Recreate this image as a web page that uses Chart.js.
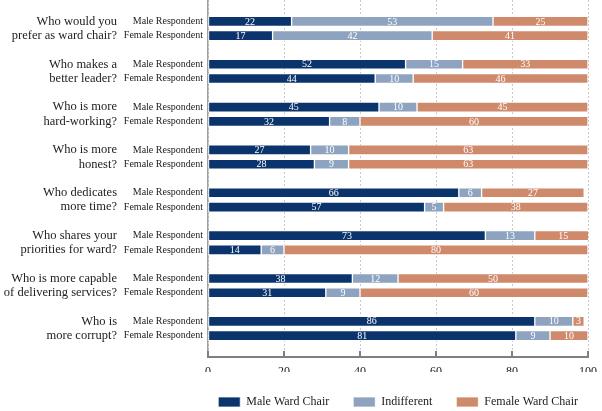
<!DOCTYPE html>
<html>
<head>
<meta charset="utf-8">
<script src="https://cdn.jsdelivr.net/npm/chart.js@4"></script>
<style>
  html, body { margin: 0; padding: 0; background: #fff; }
  #wrap { width: 602px; height: 411px; }
</style>
</head>
<body>
<div id="wrap"><canvas id="chart" width="602" height="411"></canvas></div>
<script>
// questions, split over two lines (line 1 sits on the male row, line 2 on the female row)
const questionLine1 = ['Who would you', 'Who makes a', 'Who is more', 'Who is more', 'Who dedicates', 'Who shares your', 'Who is more capable', 'Who is'];
const questionLine2 = ['prefer as ward chair?', 'better leader?', 'hard-working?', 'honest?', 'more time?', 'priorities for ward?', 'of delivering services?', 'more corrupt?'];
const respondents = ['Male Respondent', 'Female Respondent'];
const seriesNames = ['Male Ward Chair', 'Indifferent', 'Female Ward Chair'];

// male respondents
const maleRespMaleChair = [22, 52, 45, 27, 66, 73, 38, 86];
const maleRespIndifferent = [53, 15, 10, 10, 6, 13, 12, 10];
const maleRespFemaleChair = [25, 33, 45, 63, 27, 15, 50, 3];

// female respondents
const femaleRespMaleChair = [17, 44, 32, 28, 57, 14, 31, 81];
const femaleRespIndifferent = [42, 10, 8, 9, 5, 6, 9, 9];
const femaleRespFemaleChair = [41, 46, 60, 63, 38, 80, 60, 10];

const xTicks = [0, 20, 40, 60, 80, 100];
const colors = ['#0b346c', '#8ea3bf', '#cf8a6c'];

// build rows: spacer, then male / female / spacer for each question
function rows(maleVals, femaleVals) {
    const out = [null];
    for (let i = 0; i < maleVals.length; i++) {
        out.push(maleVals[i], femaleVals[i], null);
    }
    return out;
}
const respLabels = [''];
const questionLabels = [''];
for (let i = 0; i < questionLine1.length; i++) {
    respLabels.push(respondents[0], respondents[1], '');
    questionLabels.push(questionLine1[i], questionLine2[i], '');
}

const seriesData = [
    rows(maleRespMaleChair, femaleRespMaleChair),
    rows(maleRespIndifferent, femaleRespIndifferent),
    rows(maleRespFemaleChair, femaleRespFemaleChair)
];

// white numbers inside the segments
const barLabels = {
    id: 'barLabels',
    afterDatasetsDraw(chart) {
        const ctx = chart.ctx;
        ctx.save();
        ctx.font = '10px "Liberation Serif"';
        ctx.fillStyle = '#ffffff';
        ctx.textAlign = 'center';
        ctx.textBaseline = 'middle';
        chart.data.datasets.forEach((ds, i) => {
            chart.getDatasetMeta(i).data.forEach((el, j) => {
                const v = ds.data[j];
                if (v === null || v === undefined) return;
                const p = el.getCenterPoint();
                ctx.fillText(String(v), p.x, p.y + 0.5);
            });
        });
        ctx.restore();
    }
};

// solid bottom axis line with short ticks pointing up
const bottomAxis = {
    id: 'bottomAxis',
    afterDraw(chart) {
        const ctx = chart.ctx;
        const x = chart.scales.x;
        const yb = Math.round(chart.scales.y.bottom);
        ctx.save();
        ctx.setLineDash([]);
        ctx.globalAlpha = 1;
        ctx.fillStyle = '#7f7f7f';
        ctx.fillRect(x.left - 1, yb - 1, x.right - x.left + 2, 2);
        xTicks.forEach(v => {
            const px = Math.round(x.getPixelForValue(v));
            ctx.fillRect(px - 1, yb - 6, 2, 6);
        });
        ctx.restore();
    }
};

// vertical axes: no extra room for half labels at the ends
function noEndPadding(axis) {
    axis.paddingTop = 0;
    axis.paddingBottom = 0;
}

new Chart(document.getElementById('chart'), {
    type: 'bar',
    data: {
        labels: respLabels,
        datasets: seriesNames.map((name, i) => ({
            label: name,
            data: seriesData[i],
            backgroundColor: colors[i],
            borderColor: 'rgba(255,255,255,0.75)',
            borderWidth: 1,
            borderSkipped: false,
            barThickness: 10
        }))
    },
    options: {
        indexAxis: 'y',
        responsive: false,
        animation: false,
        layout: { padding: { top: 0, right: 0, bottom: -7, left: 0 } },
        scales: {
            x: {
                stacked: true,
                min: 0,
                max: 100,
                afterBuildTicks: (axis) => { axis.ticks = xTicks.map(v => ({ value: v })); },
                ticks: {
                    font: { family: 'Liberation Serif', size: 12 },
                    color: '#222',
                    padding: 8
                },
                grid: { color: '#c8c8c8', lineWidth: 1, drawTicks: false },
                border: { display: false, dash: [2, 2] },
                afterFit: (axis) => {
                    axis.paddingRight = 14;
                    axis.paddingLeft = 0;
                    axis.height = 15;
                }
            },
            y: {
                stacked: true,
                type: 'category',
                offset: true,
                weight: 0,
                ticks: {
                    autoSkip: false,
                    font: { family: 'Liberation Serif', size: 10 },
                    color: '#222',
                    padding: 5
                },
                grid: { display: false, drawTicks: false },
                border: { display: true, color: '#a0a0a0', width: 1.5 },
                afterFit: (axis) => { axis.width = 90; noEndPadding(axis); }
            },
            q: {
                type: 'category',
                position: 'left',
                labels: questionLabels,
                offset: true,
                weight: 1,
                ticks: {
                    autoSkip: false,
                    font: { family: 'Liberation Serif', size: 12.5 },
                    color: '#222',
                    padding: 1
                },
                grid: { display: false, drawTicks: false },
                border: { display: false },
                afterFit: (axis) => { axis.width = 118; noEndPadding(axis); }
            }
        },
        plugins: {
            legend: {
                position: 'bottom',
                align: 'end',
                labels: {
                    boxWidth: 22,
                    boxHeight: 10,
                    padding: 24,
                    color: '#222',
                    font: { family: 'Liberation Serif', size: 12 }
                }
            },
            tooltip: { enabled: false }
        }
    },
    plugins: [barLabels, bottomAxis]
});
</script>
</body>
</html>
